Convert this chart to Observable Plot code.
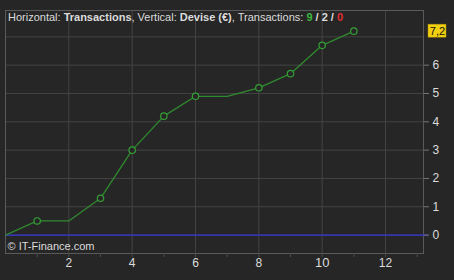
<!DOCTYPE html>
<html>
<head>
<meta charset="utf-8">
<script src="https://cdn.jsdelivr.net/npm/d3@7"></script>
<script src="https://cdn.jsdelivr.net/npm/@observablehq/plot@0.6"></script>
<style>
html, body { margin: 0; padding: 0; background: #262626; }
#chart svg { display: block; }
</style>
</head>
<body>
<div id="chart"></div>
<script>
const transactions = [0, 1, 2, 3, 4, 5, 6, 7, 8, 9, 10, 11];
const devise = [0, 0.5, 0.5, 1.3, 3.0, 4.2, 4.9, 4.9, 5.2, 5.7, 6.7, 7.2];
const hasMarker = [false, true, false, true, true, true, true, false, true, true, true, true];
const xLabelTicks = [2, 4, 6, 8, 10, 12];
const xMinorTicks = [1, 2, 3, 4, 5, 6, 7, 8, 9, 10, 11, 12, 13];
const yTicks = [0, 1, 2, 3, 4, 5, 6];
const yGrid = [0, 1, 2, 3, 4, 5, 6, 7];
const lastValue = 7.2;
const lastLabel = "7,2";
const counts = ["9", "2", "0"];

const data = transactions.map((t, i) => ({x: t, y: devise[i], m: hasMarker[i]}));
const xMax = 13.2;

const titleMark = (index, scales, values, dims) => {
  const t = d3.create("svg:text")
    .attr("x", dims.marginLeft + 3)
    .attr("y", dims.marginTop + 11)
    .attr("text-anchor", "start")
    .attr("font-family", "Liberation Sans, Arial, sans-serif")
    .attr("font-size", 11)
    .attr("fill", "#dcdcdc");
  const parts = [
    ["Horizontal: ", "normal", "#dcdcdc"],
    ["Transactions", "bold", "#dcdcdc"],
    [", Vertical: ", "normal", "#dcdcdc"],
    ["Devise (€)", "bold", "#dcdcdc"],
    [", Transactions: ", "normal", "#dcdcdc"],
    [counts[0], "bold", "#3cb83c"],
    [" / ", "bold", "#dcdcdc"],
    [counts[1], "bold", "#dcdcdc"],
    [" / ", "bold", "#dcdcdc"],
    [counts[2], "bold", "#e03030"]
  ];
  for (const [s, w, c] of parts) t.append("tspan").attr("font-weight", w).attr("fill", c).text(s);
  return t.node();
};

const chart = Plot.plot({
  width: 454,
  height: 280,
  marginLeft: 5,
  marginRight: 31,
  marginTop: 10,
  marginBottom: 27,
  style: {background: "#262626", fontFamily: "Liberation Sans, Arial, sans-serif"},
  x: {type: "linear", domain: [0, xMax], axis: null, label: null},
  y: {type: "linear", domain: [-0.65, 7.93], axis: null, label: null},
  marks: [
    Plot.gridX(xLabelTicks, {stroke: "#434343", strokeOpacity: 1}),
    Plot.gridY(yGrid, {stroke: "#434343", strokeOpacity: 1}),
    Plot.frame({stroke: "#5a5a5a"}),
    Plot.ruleY([0], {x1: 0, x2: 13.35, stroke: "#3434d8", strokeWidth: 1.2}),
    Plot.line(data, {x: "x", y: "y", stroke: "#2f8a2f", strokeWidth: 1.3}),
    Plot.dot(data.filter(d => d.m), {x: "x", y: "y", r: 3.2, stroke: "#35a035", fill: "#262626", strokeWidth: 1.2}),
    Plot.axisX(xMinorTicks, {tickSize: 4, tickFormat: () => "", stroke: "#4a4a4a", label: null}),
    Plot.text(xLabelTicks, {x: d => d, frameAnchor: "bottom", dy: 13, text: d => String(d), fill: "#dcdcdc", fontSize: d => d === 10 ? 13 : 12, fontWeight: d => d === 10 ? "bold" : "normal"}),
    Plot.axisY(yTicks, {anchor: "right", tickSize: 5, tickPadding: 4, stroke: "#777", fill: "#dcdcdc", fontSize: 12, tickFormat: d => String(d), label: null}),
    Plot.text(["© IT-Finance.com"], {frameAnchor: "bottom-left", dx: 2, dy: -4, text: d => d, fill: "#dcdcdc", fontSize: 11, textAnchor: "start"}),
    Plot.rect([lastValue], {x1: xMax, x2: xMax, y1: d => d, y2: d => d, insetLeft: 5, insetRight: -23, insetTop: -6.5, insetBottom: -6.5, fill: "#f0d010", stroke: "#b09000", strokeWidth: 0.5}),
    Plot.text([lastValue], {x: xMax, y: d => d, dx: 14, text: () => lastLabel, fill: "#111", fontSize: 11, textAnchor: "middle"}),
    titleMark
  ]
});
document.getElementById("chart").append(chart);
</script>
</body>
</html>
